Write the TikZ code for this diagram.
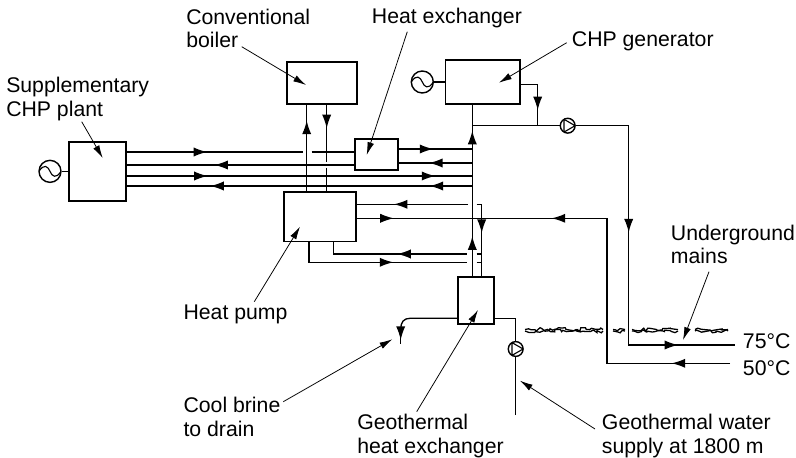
\documentclass[tikz,border=0pt]{standalone}
\usepackage{fontspec}
\setmainfont{Liberation Sans}
\usetikzlibrary{arrows.meta,decorations.markings,decorations.pathmorphing}
\tikzset{
  plantbox/.style={draw,line width=1.2pt,inner sep=0pt},
  pipe/.style={line width=0.95pt},
  flow/.style={postaction={decorate,decoration={markings,mark=at position #1 with {\arrow{Latex[length=3.4mm,width=2.3mm]}}}}},
  leader/.style={line width=0.55pt,-{Latex[length=3.2mm,width=1.7mm]}},
  lbl/.style={font=\fontsize{15.1}{17}\selectfont,inner sep=0pt,anchor=base west,align=left},
  gensym/.style={circle,draw,line width=1pt,inner sep=0pt,minimum size=0.55cm,path picture={
      \draw[shift={(path picture bounding box.center)},line width=0.8pt]
        (-11,0) .. controls (-6,-8) and (-2,-5) .. (0,0) .. controls (2,5) and (6,8) .. (11,0);}},
  pump/.style={circle,draw,line width=1pt,inner sep=0pt,minimum size=0.37cm,path picture={
      \draw[shift={(path picture bounding box.center)},rotate=#1,line width=0.8pt]
        (7.4,0) -- (-3.7,6.4) -- (-3.7,-6.4) -- cycle;}},
  ground/.style={line width=0.9pt,decorate,decoration={random steps,segment length=2pt,amplitude=1.3pt}},
}
\begin{document}
\begin{tikzpicture}[x=0.025cm,y=-0.025cm]
  \useasboundingbox (0,0) rectangle (796,458);
  % Plant boxes
  \node[plantbox,minimum width=1.75cm,minimum height=1.05cm] (boiler) at (321.7,83) {};
  \node[plantbox,minimum width=1.08cm,minimum height=0.78cm] (exch) at (376.4,154.5) {};
  \node[plantbox,minimum width=1.86cm,minimum height=1.1cm] (chp) at (482.85,82) {};
  \node[plantbox,minimum width=1.8cm,minimum height=1.24cm] (hpump) at (320,216.85) {};
  \node[plantbox,minimum width=0.9cm,minimum height=1.18cm] (geo) at (475.7,300.35) {};
  \node[plantbox,minimum width=1.43cm,minimum height=1.47cm] (supp) at (97.5,171.35) {};
  % Generators and pumps
  \node[gensym] (genchp) at (422.3,82) {};
  \node[gensym] (gensupp) at (50,171.35) {};
  \node[pump=0] (pumpmain) at (567.7,125.7) {};
  \node[pump=90] (pumpgeo) at (515.7,349) {};
  \draw[pipe] (genchp) -- (chp);
  \draw[pipe] (gensupp) -- (supp);
  % Rails
  \coordinate (main) at (472.3,125.7);
  \coordinate (back) at (481.7,204.3);
  \coordinate (hot) at (628.7,345);
  \coordinate (cold) at (607,363.3);
  % Lines from the supplementary plant
  \draw[pipe,flow=.457] (supp.east |- 0,152) -- (302.7,152);
  \draw[pipe] (311.7,152) -- (exch.west |- 0,152);
  \draw[pipe,flow=.615] (exch.west |- 0,165) -- (supp.east |- 0,165);
  \draw[pipe,flow=.234,flow=.893] (supp.east |- 0,176) -- (main |- 0,176);
  \draw[pipe,flow=.124,flow=.759] (main |- 0,186) -- (supp.east |- 0,186);
  % Heat exchanger to the main riser
  \draw[pipe,flow=.47] (exch.east |- 0,149) -- (main |- 0,149);
  \draw[pipe,flow=.59] (main |- 0,163) -- (exch.east |- 0,163);
  % Boiler
  \draw[pipe,flow=.818] (306.7,0 |- hpump.north) -- (306.7,0 |- boiler.south);
  \draw[pipe,flow=.41] (326.7,0 |- boiler.south) -- (326.7,162);
  \draw[pipe] (326.7,168) -- (326.7,0 |- hpump.north);
  % Main riser and CHP generator
  \draw[pipe,flow=.232,flow=.849] (main |- geo.north) -- (main |- chp.south);
  \draw[pipe,flow=.734] (chp.east |- 0,84.3) -- (537.7,84.3) -- (537.7,125.7);
  \draw[pipe] (main) -- (pumpmain);
  \draw[pipe,flow=.422,flow=.85] (pumpmain) -- (hot |- pumpmain) -- (hot) -- (735,345);
  % Heat pump
  \draw[pipe,flow=.145,flow=.803] (730,363.3) -- (cold) -- (cold |- 0,218.3) -- (main |- 0,218.3);
  \draw[pipe,flow=.32] (hpump.east |- 0,218.3) -- (main |- 0,218.3);
  \draw[pipe,flow=.667] (468,204.3) -- (hpump.east |- 0,204.3);
  \draw[pipe,flow=.48] (466.7,254) -- (333.3,254) -- (333.3,0 |- hpump.south);
  \draw[pipe,flow=.587] (309,0 |- hpump.south) -- (309,262.3) -- (466.7,262.3);
  \draw[pipe,flow=.44] (476.7,204.3) -- (back) -- (back |- geo.north);
  \draw[pipe] (476.7,254) -- (back |- 0,254);
  \draw[pipe] (476.7,262.3) -- (back |- 0,262.3);
  % Geothermal heat exchanger
  \coordinate (drain) at (400.7,344);
  \coordinate (bend) at (400.7,329);
  \coordinate (well) at (515.7,415);
  \draw[pipe] (geo.west |- 0,318.3) -- (410,318.3) .. controls (404,318.3) and (400.7,322) .. (bend);
  \draw[pipe,flow=.73] (bend) -- (drain);
  \draw[pipe] (well) -- (pumpgeo);
  \draw[pipe] (pumpgeo) -- (515.7,318.3) -- (geo.east |- 0,318.3);
  % Ground surface
  \foreach \a/\b in {525/603,613/625,632/678,695/728} {
    \draw[ground] (\a,329.5) -- (\b,329.5);
    \draw[ground] (\a,331) -- (\b,331);
  }
  % Leaders
  \foreach \nm/\sx/\sy/\tx/\ty in {boiler/241.7/46.7/306/85, exch/407.3/31.7/366.7/155,
      chp/566.7/42.7/499/82.7, supp/81.7/121.7/102.7/158, hpump/254.3/301.7/300/226.7,
      brine/283.3/401.7/392.3/339.3, geo/416.7/411.7/478/310, well/595/429/520/380.7,
      mains/709/271.7/683/340} {
    \coordinate (s\nm) at (\sx,\sy);
    \coordinate (t\nm) at (\tx,\ty);
    \draw[leader] (s\nm) -- (t\nm);
  }
  % Labels
  \node[lbl] (lblboiler) at (186,48) {Conventional\\boiler};
  \node[lbl] (lblexch) at (371.7,24) {Heat exchanger};
  \node[lbl] (lblchp) at (571.7,47) {CHP generator};
  \node[lbl] (lblsupp) at (6,116.7) {Supplementary\\CHP plant};
  \node[lbl] (lblhpump) at (183.3,319.3) {Heat pump};
  \node[lbl] (lblbrine) at (183.3,436.7) {Cool brine\\to drain};
  \node[lbl] (lblgeo) at (357,453) {Geothermal\\heat exchanger};
  \node[lbl] (lblwell) at (601.7,453) {Geothermal water\\supply at 1800 m};
  \node[lbl] (lblmains) at (670.7,264) {Underground\\mains};
  \node[lbl] (lblhot) at (742.7,349) {75°C};
  \node[lbl] (lblcold) at (742.7,375) {50°C};
\end{tikzpicture}
\end{document}
